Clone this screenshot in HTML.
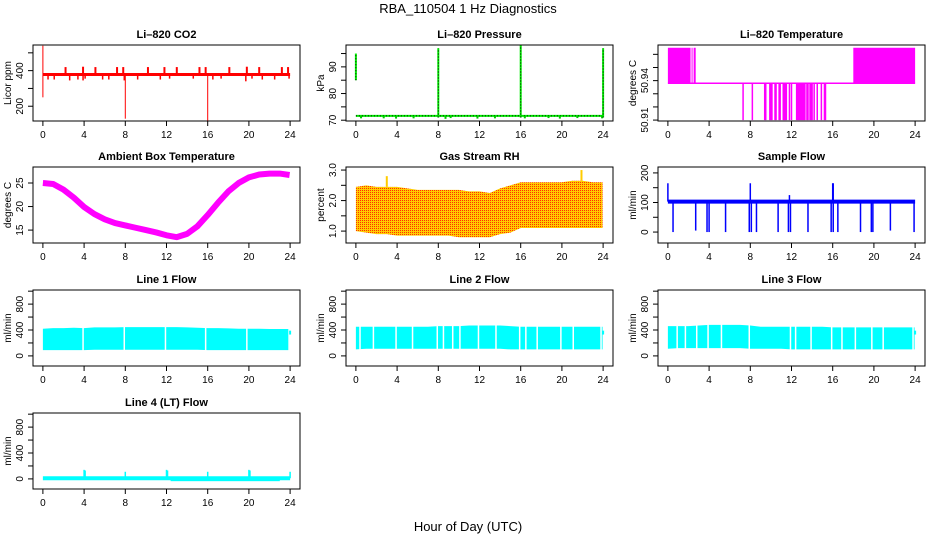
<!DOCTYPE html>
<html><head><meta charset="utf-8"><style>
html,body{margin:0;padding:0;background:#fff;}
svg{display:block;font-family:"Liberation Sans",sans-serif;}
</style></head><body>
<svg id="fig" width="936" height="540" viewBox="0 0 936 540" xmlns="http://www.w3.org/2000/svg">
<defs>
<pattern id="rhpat" width="2" height="2" patternUnits="userSpaceOnUse">
<rect width="2" height="2" fill="#ffcc00"/><rect width="1" height="1" fill="#ff3000"/>
</pattern>
</defs>
<text x="468" y="13" text-anchor="middle" font-size="13">RBA_110504  1 Hz Diagnostics</text>
<text x="468" y="531" text-anchor="middle" font-size="13">Hour of Day (UTC)</text>
</svg>
<script>
// ---- data ----
const xTicks = [0,4,8,12,16,20,24];
const co2Base = 378;
const co2UpHours = [2.2,3.9,5.1,7.2,7.8,10.2,11.8,13.0,15.2,15.8,18.1,19.8,21.0,23.2,23.8];
const co2UpVals = [420,422,420,420,420,420,420,420,420,420,420,422,420,420,420];
const co2DnHours = [0.5,1.1,2.6,3.4,3.9,4.1,5.8,6.4,7.9,9.2,11.4,12.3,14.6,16.5,17.3,19.7,20.3,21.3,22.5,23.9];
const co2DnVals = [350,350,345,350,345,355,350,350,345,350,350,355,355,350,355,340,355,350,350,355];
const co2BigHours = [0.0,0.0,8.0,16.0];
const co2BigVals = [540,250,130,117];
const presBase = 71.6;
const presSpikeHours = [0,8,16,24];
const presSpikeLow = [85,71,71,71];
const presSpikeHigh = [95,97,98,97];
const presDipHours = [0.5,2.7,3.9,5.6,8.7,9.2,11.8,13.5,16.4,18.7,19.8,21.5,23.9];
const presDipVals = [70.7,70.7,70.6,70.7,70.5,70.8,70.6,70.7,70.7,70.8,70.6,70.8,70.7];
const tempBase = 50.938;
const tempHigh = 50.965;
const tempLow = 50.91;
const tempBlockStart = [0,2.3,2.5,18];
const tempBlockEnd = [2.2,2.36,2.7,24];
const tempLowHours = [7.3,8.2,9.4,9.5,9.9,10.0,10.1,10.4,10.5,10.8,10.9,11.2,11.3,11.4,11.5,11.8,12.0,12.5,12.6,12.7,12.8,12.9,13.0,13.1,13.2,13.3,13.5,13.6,13.8,13.9,14.0,14.2,14.5,14.9,15.2,15.3];
const hours25 = [0,1,2,3,4,5,6,7,8,9,10,11,12,13,14,15,16,17,18,19,20,21,22,23,23.95];
const ambient = [25,24.8,23.6,21.9,19.9,18.4,17.3,16.5,16.0,15.5,15.0,14.5,13.9,13.5,14.2,15.8,18.2,20.8,23.2,25.0,26.2,26.8,27.0,27.0,26.7];
const rhUpper = [2.45,2.5,2.45,2.45,2.45,2.4,2.35,2.35,2.35,2.35,2.35,2.3,2.3,2.25,2.4,2.5,2.6,2.6,2.6,2.6,2.6,2.65,2.65,2.6,2.6];
const rhLower = [1.0,0.95,0.9,0.9,0.85,0.85,0.85,0.85,0.85,0.85,0.8,0.8,0.8,0.8,0.9,0.95,1.1,1.1,1.1,1.1,1.1,1.1,1.1,1.1,1.1];
const rhPeakHours = [3,21.9];
const rhPeakVals = [2.8,3.0];
const sampleBase = 103;
const sampleDropHours = [0.5,2.7,3.8,4.0,5.6,7.9,8.1,8.6,10.7,11.7,11.9,13.6,15.85,16.05,16.5,18.7,19.75,19.9,21.6,23.9];
const sampleDropVals = [0,5,0,0,0,0,0,0,0,0,0,0,0,0,0,0,0,0,5,0];
const sampleSpikeHours = [0,8,11.8,16,16.05];
const sampleSpikeVals = [165,165,125,165,165];
const line1Upper = [420,430,430,435,430,440,440,440,445,445,445,445,445,445,440,435,430,430,425,420,420,420,415,415,415];
const line1Lower = [90,90,90,90,90,95,95,95,95,95,95,95,95,95,95,95,90,90,90,90,90,90,90,90,90];
const line1Gaps = [3.9,7.9,11.9,15.8,19.8,23.9];
const line2Upper = [450,450,450,450,450,450,450,450,460,460,460,470,470,470,470,460,450,450,450,450,450,450,450,450,450];
const line2Lower = [100,110,110,110,110,110,110,110,110,110,110,110,110,110,110,100,100,100,100,100,100,100,100,100,100];
const line2Gaps = [0.4,1.7,3.9,5.5,7.9,8.5,9.4,10.1,11.9,13.6,15.9,16.5,17.6,19.9,21.1,23.8];
const line3Upper = [460,460,460,470,480,480,480,480,470,450,450,450,450,450,450,450,440,440,440,440,440,440,440,440,440];
const line3Lower = [110,120,120,120,120,120,120,120,110,110,110,110,100,100,100,100,100,100,100,100,100,100,100,100,100];
const line3Gaps = [0.9,1.7,2.8,3.9,5.2,7.9,11.9,12.4,13.9,15.9,16.9,18.2,19.8,20.9,23.8];
const flowEndHour = 24;
const flowEndLow = 330;
const flowEndHigh = 390;
const line4Base = 10;
const line4SpikeHours = [4,4.1,8,12,12.1,16,20,20.1,24];
const line4SpikeVals = [140,130,110,140,130,110,140,130,110];
const line4NegStart = 12.4;
const line4NegEnd = 23.0;
const line4NegVal = -35;

// ---- layout ----
const NS = "http://www.w3.org/2000/svg";
const svg = document.getElementById('fig');
const colX = [33, 346, 658];
const rowY = [45, 167, 290, 413];
const W = 267, H = 76;
function mk(tag, attrs, parent){
  const e = document.createElementNS(NS, tag);
  for (const k in attrs) e.setAttribute(k, attrs[k]);
  (parent||svg).appendChild(e);
  return e;
}
function panel(col, row, title, slug, yDom, yTicks, yLabels, yTitle, draw){
  const L = colX[col], T = rowY[row];
  const g = mk('g', {});
  
  
  const xs = h => L + (h + 0.96) / 25.92 * W;
  const ys = v => T + H - (v - yDom[0]) / (yDom[1] - yDom[0]) * H;
  const clip = mk('clipPath', {id: 'clip-' + slug}, g);
  mk('rect', {x: L, y: T, width: W, height: H}, clip);
  const plot = mk('g', {'clip-path': 'url(#clip-' + slug + ')'}, g);
  
  
  draw(plot, xs, ys);
  const box = mk('rect', {x: L, y: T, width: W, height: H, fill: 'none', stroke: '#000', 'stroke-width': 1}, g);
  
  
  const t = mk('text', {x: L + W/2, y: T - 7, 'text-anchor': 'middle', 'font-size': 11, 'font-weight': 'bold'}, g);
  t.textContent = title;
  
  
  const xa = mk('g', {}, g);
  
  
  xTicks.forEach(h => {
    mk('line', {x1: xs(h), x2: xs(h), y1: T+H, y2: T+H+5, stroke: '#000'}, xa);
    const tx = mk('text', {x: xs(h), y: T+H+17, 'text-anchor': 'middle', 'font-size': 10}, xa);
    tx.textContent = h;
  });
  const ya = mk('g', {}, g);
  
  
  yTicks.forEach(v => {
    mk('line', {x1: L-5, x2: L, y1: ys(v), y2: ys(v), stroke: '#000'}, ya);
  });
  yLabels.forEach(v => {
    const x = L - 10, y = ys(v);
    const tx = mk('text', {x: x, y: y, 'text-anchor': 'middle', 'font-size': 10, transform: 'rotate(-90 ' + x + ' ' + y + ')'}, ya);
    tx.textContent = v;
  });
  const yt = mk('text', {x: L - 22, y: T + H/2, 'text-anchor': 'middle', 'font-size': 10, transform: 'rotate(-90 ' + (L-22) + ' ' + (T+H/2) + ')'}, ya);
  yt.textContent = yTitle;
  
  
}
function vline(p, x, y1, y2, c, w){ return mk('line', {x1: x, x2: x, y1: y1, y2: y2, stroke: c, 'stroke-width': w||1}, p); }
function band(p, xs, ys, hrs, up, lo, fill){
  let pts = hrs.map((h,i) => xs(h)+','+ys(up[i]));
  pts = pts.concat(hrs.slice().reverse().map((h,j) => { const i = hrs.length-1-j; return xs(h)+','+ys(lo[i]); }));
  return mk('polygon', {points: pts.join(' '), fill: fill}, p);
}

panel(0,0,'Li\u2013820 CO2','co2',[117,544],[200,300,400,500],['200','400'],'Licor ppm',(p,xs,ys)=>{
  mk('line',{x1:xs(0),x2:xs(24),y1:ys(co2Base),y2:ys(co2Base),stroke:'#ff0000','stroke-width':3},p);
  co2UpHours.forEach((h,i)=>vline(p,xs(h),ys(co2Base),ys(co2UpVals[i]),'#ff0000',2));
  co2DnHours.forEach((h,i)=>vline(p,xs(h),ys(co2Base),ys(co2DnVals[i]),'#ff0000',1.5));
  co2BigHours.forEach((h,i)=>vline(p,xs(h),ys(co2Base),ys(co2BigVals[i]),'#ff0000',1));
});
panel(1,0,'Li\u2013820 Pressure','pressure',[69.7,98.2],[70,75,80,85,90,95],['70','80','90'],'kPa',(p,xs,ys)=>{
  mk('line',{x1:xs(0),x2:xs(24),y1:ys(presBase),y2:ys(presBase),stroke:'#00ee00','stroke-width':2},p);
  mk('line',{x1:xs(0),x2:xs(24),y1:ys(presBase),y2:ys(presBase),stroke:'#000','stroke-width':1,'stroke-dasharray':'1 2'},p);
  presDipHours.forEach((h,i)=>vline(p,xs(h),ys(presBase),ys(presDipVals[i]),'#00cc00',2));
  presSpikeHours.forEach((h,i)=>{
    vline(p,xs(h),ys(presSpikeLow[i]),ys(presSpikeHigh[i]),'#00ee00',2);
    vline(p,xs(h),ys(presSpikeLow[i]),ys(presSpikeHigh[i]),'#000',1).setAttribute('stroke-dasharray','1 2');
  });
});
panel(2,0,'Li\u2013820 Temperature','licor-temp',[50.9093,50.9671],[50.91,50.92,50.93,50.94,50.95,50.96],['50.91','50.94'],'degrees C',(p,xs,ys)=>{
  mk('line',{x1:xs(0),x2:xs(24),y1:ys(tempBase),y2:ys(tempBase),stroke:'#ff00ff','stroke-width':1.5},p);
  tempBlockStart.forEach((s,i)=>{
    mk('rect',{x:xs(s),y:ys(tempHigh),width:Math.max(1,xs(tempBlockEnd[i])-xs(s)),height:ys(tempBase)-ys(tempHigh),fill:'#ff00ff'},p);
  });
  tempLowHours.forEach(h=>vline(p,xs(h),ys(tempBase),ys(tempLow),'#ff00ff',1.5));
});
panel(0,1,'Ambient Box Temperature','ambient-temp',[12.26,28.4],[15,20,25],['15','20','25'],'degrees C',(p,xs,ys)=>{
  mk('polyline',{points:hours25.map((h,i)=>xs(h)+','+ys(ambient[i])).join(' '),fill:'none',stroke:'#ff00ff','stroke-width':6,'stroke-linejoin':'round'},p);
});
panel(1,1,'Gas Stream RH','gas-rh',[0.61,3.1],[1.0,1.5,2.0,2.5,3.0],['1.0','2.0','3.0'],'percent',(p,xs,ys)=>{
  band(p,xs,ys,hours25,rhUpper,rhLower,'url(#rhpat)');
  rhPeakHours.forEach((h,i)=>vline(p,xs(h),ys(rhUpper[Math.round(h)]),ys(rhPeakVals[i]),'#ffcc00',2));
});
panel(2,1,'Sample Flow','sample-flow',[-37,220],[0,50,100,150,200],['0','100','200'],'ml/min',(p,xs,ys)=>{
  mk('line',{x1:xs(0),x2:xs(24),y1:ys(sampleBase),y2:ys(sampleBase),stroke:'#0000ff','stroke-width':4},p);
  sampleDropHours.forEach((h,i)=>vline(p,xs(h),ys(sampleBase),ys(sampleDropVals[i]),'#0000ff',1.5));
  sampleSpikeHours.forEach((h,i)=>vline(p,xs(h),ys(sampleBase),ys(sampleSpikeVals[i]),'#0000ff',1.5));
});
const flowDom = [-156,1018], flowTicks = [0,200,400,600,800,1000], flowLabels = ['0','400','800'];
function flowPanel(col,row,title,slug,up,lo,gaps){
  panel(col,row,title,slug,flowDom,flowTicks,flowLabels,'ml/min',(p,xs,ys)=>{
    band(p,xs,ys,hours25,up,lo,'#00ffff');
    gaps.forEach(h=>vline(p,xs(h),ys(1000),ys(-100),'#ffffff',1.5));
    vline(p,xs(flowEndHour),ys(flowEndLow),ys(flowEndHigh),'#00ffff',2);
  });
}
flowPanel(0,2,'Line 1 Flow','line1-flow',line1Upper,line1Lower,line1Gaps);
flowPanel(1,2,'Line 2 Flow','line2-flow',line2Upper,line2Lower,line2Gaps);
flowPanel(2,2,'Line 3 Flow','line3-flow',line3Upper,line3Lower,line3Gaps);
panel(0,3,'Line 4 (LT) Flow','line4-flow',flowDom,flowTicks,flowLabels,'ml/min',(p,xs,ys)=>{
  mk('rect',{x:xs(line4NegStart),y:ys(line4Base),width:xs(line4NegEnd)-xs(line4NegStart),height:ys(line4NegVal)-ys(line4Base),fill:'#00ffff'},p);
  mk('line',{x1:xs(0),x2:xs(24),y1:ys(line4Base),y2:ys(line4Base),stroke:'#00ffff','stroke-width':4},p);
  line4SpikeHours.forEach((h,i)=>vline(p,xs(h),ys(line4Base),ys(line4SpikeVals[i]),'#00ffff',1.5));
});
</script>
</body></html>
